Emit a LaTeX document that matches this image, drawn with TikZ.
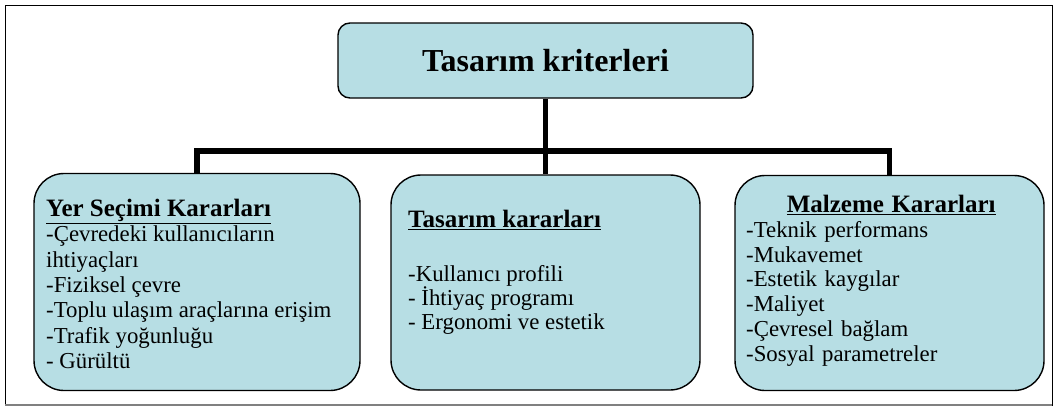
\documentclass[tikz,border=0pt]{standalone}
\usepackage{fontspec}
\setmainfont{Liberation Serif}
\usepackage{xcolor}
\usepackage{tikz}
\usetikzlibrary{positioning}
\definecolor{kutu}{RGB}{183,222,228}

\begin{document}
\begin{tikzpicture}[x=1pt, y=-1pt,
        kriter/.style={draw=black, line width=1.4pt, fill=kutu, rounded corners=30pt, inner sep=0pt},
        yazi/.style={anchor=north west, inner sep=0pt, align=left, font=\fontsize{22.8}{25.3}\selectfont},
        bag/.style={line width=5.5pt, line join=miter}]
        \useasboundingbox (0,0) rectangle (1059,407);
        \draw[line width=0.8pt] (5,5) rectangle (1052,405);
        \draw[line width=2pt, gray] (5,405) -- (1052,405);
        % ana kutu
        \node[kriter, rounded corners=12pt, minimum width=415pt, minimum height=75pt,
        font=\fontsize{32}{36}\bfseries] (ana) at (545.5,60.5) {Tasarım kriterleri};
        % alt kutular
        \node[kriter, minimum width=326pt, minimum height=217pt] (yer) at (197,282) {};
        \node[kriter, minimum width=309pt, minimum height=215pt] (tas) at (545.5,282.5) {};
        \node[kriter, minimum width=309pt, minimum height=215pt] (malz) at (889.5,283) {};
        \coordinate (orta) at (545.5,151);
        \draw[bag] (ana.south) -- (orta);
        \draw[bag] (yer.north) |- (orta) -| (malz.north);
        \draw[bag] (orta) -- (tas.north);
        % metinler
        \node[yazi] (yermetin) at (46,199)
        {{\fontsize{25}{25.3}\bfseries\underline{Yer Seçimi Kararları}}\\
        -Çevredeki kullanıcıların\\
        ihtiyaçları\\
        -Fiziksel çevre\\
        -Toplu ulaşım araçlarına erişim\\
        -Trafik yoğunluğu\\
        - Gürültü};
        \node[yazi, font=\fontsize{22.8}{24}\selectfont] (tasmetin) at (408,210)
        {{\fontsize{25}{24}\bfseries\underline{Tasarım kararları}}\\[30pt]
        -Kullanıcı profili\\
        - İhtiyaç programı\\
        - Ergonomi ve estetik};
        \node[yazi, font=\fontsize{22.8}{24.8}\selectfont, text width=290pt] (malzmetin) at (746,195)
        {\makebox[\linewidth]{\fontsize{25}{24.8}\bfseries\underline{Malzeme Kararları}}\\
        -Teknik performans\\
        -Mukavemet\\
        -Estetik kaygılar\\
        -Maliyet\\
        -Çevresel bağlam\\
        -Sosyal parametreler};
\end{tikzpicture}
\end{document}
